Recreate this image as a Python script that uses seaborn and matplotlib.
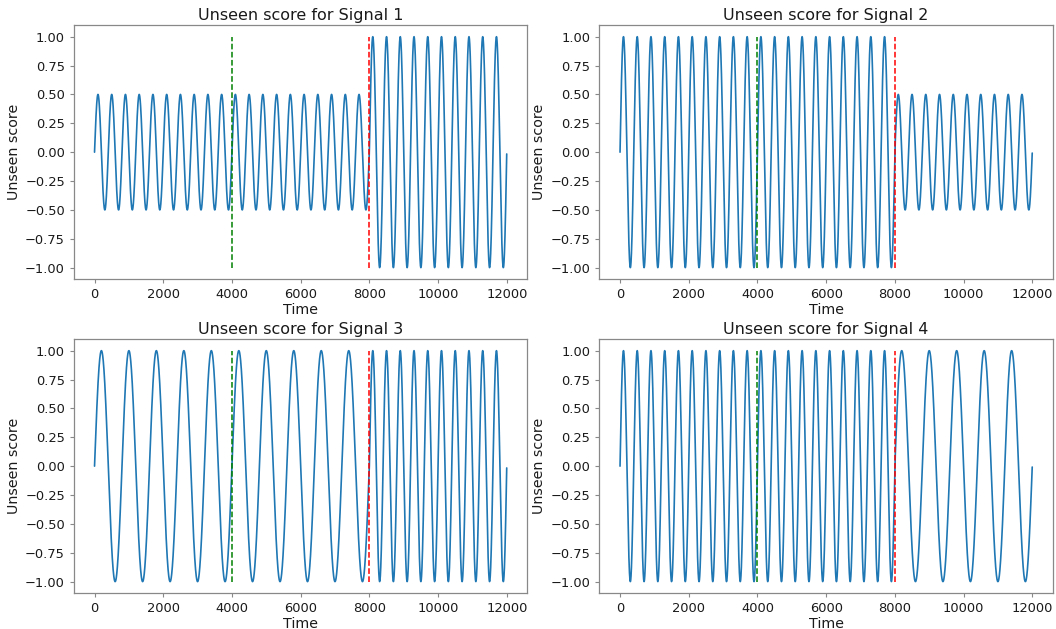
import numpy as np
import pandas as pd
import matplotlib
matplotlib.use("Agg")
import matplotlib.pyplot as plt
import seaborn as sns

# ---- data ----
titles = ["Unseen score for Signal 1", "Unseen score for Signal 2",
          "Unseen score for Signal 3", "Unseen score for Signal 4"]
segment_edges = [0, 4000, 8000, 12000]
amp_signal1 = [0.5, 0.5, 1.0]
amp_signal2 = [1.0, 1.0, 0.5]
amp_signal3 = [1.0, 1.0, 1.0]
amp_signal4 = [1.0, 1.0, 1.0]
period_signal1 = [400, 400, 400]
period_signal2 = [400, 400, 400]
period_signal3 = [800, 800, 400]
period_signal4 = [400, 400, 800]
change_green = 4000
change_red = 8000
xticks = [0, 2000, 4000, 6000, 8000, 10000, 12000]
yticks = [-1.00, -0.75, -0.50, -0.25, 0.00, 0.25, 0.50, 0.75, 1.00]

amps = [amp_signal1, amp_signal2, amp_signal3, amp_signal4]
periods = [period_signal1, period_signal2, period_signal3, period_signal4]


def build(amp, per):
    parts = []
    for i in range(len(segment_edges) - 1):
        t = np.arange(segment_edges[i], segment_edges[i + 1])
        parts.append(amp[i] * np.sin(2 * np.pi * (t - segment_edges[i]) / per[i]))
    return np.concatenate(parts)


sns.set_style("ticks")
plt.rcParams["font.family"] = ["DejaVu Sans"]

fig, axes = plt.subplots(2, 2, figsize=(10.56, 6.29), dpi=100)
fig.subplots_adjust(left=0.070, right=0.997, top=0.960, bottom=0.057,
                    hspace=0.236, wspace=0.159)

time = np.arange(segment_edges[0], segment_edges[-1])
for k, ax in enumerate(axes.flat):
    df = pd.DataFrame({"Time": time, "score": build(amps[k], periods[k])})
    sns.lineplot(data=df, x="Time", y="score", ax=ax, color="#1f77b4",
                 linewidth=1.2, estimator=None)
    ax.vlines(change_green, -1, 1, colors="green", linestyles="--", linewidth=1.1)
    ax.vlines(change_red, -1, 1, colors="red", linestyles="--", linewidth=1.1)
    ax.set_title(titles[k], fontsize=11.5, color="#1a1a1a", pad=4)
    ax.set_xlabel("Time", fontsize=10.3, color="#1a1a1a", labelpad=1)
    ax.set_ylabel("Unseen score", fontsize=10.3, color="#1a1a1a", labelpad=3)
    ax.set_xticks(xticks)
    ax.set_yticks(yticks)
    ax.set_yticklabels([f"{v:.2f}".replace("-", "\u2212") for v in yticks])
    ax.tick_params(labelsize=9.4, labelcolor="#1a1a1a", color="#888888",
                   length=3, width=0.8)
    for sp in ax.spines.values():
        sp.set_visible(True)
        sp.set_color("#888888")
        sp.set_linewidth(0.9)

fig.savefig("out.png", dpi=100, facecolor="white")
